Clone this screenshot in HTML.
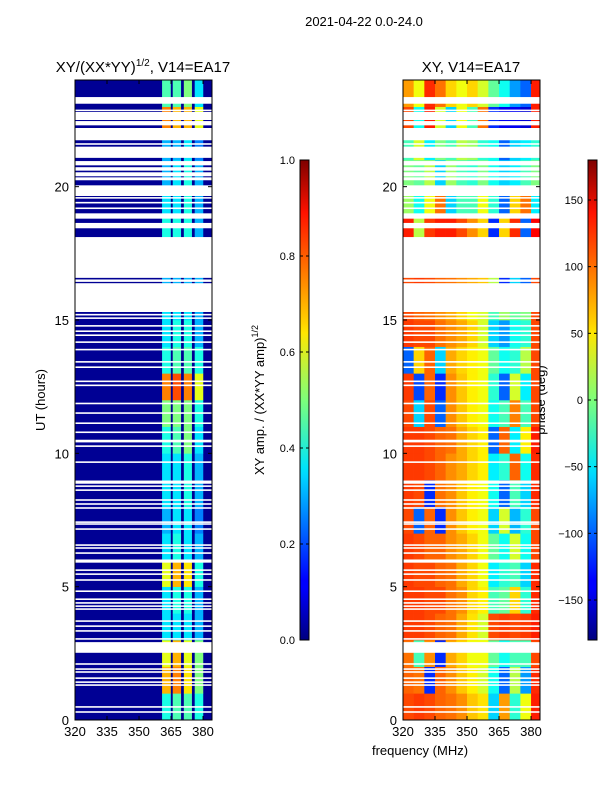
<!DOCTYPE html>
<html><head><meta charset="utf-8"><style>
body{margin:0;background:#fff;width:600px;height:800px;overflow:hidden;font-family:"Liberation Sans",sans-serif}
svg text{font-family:"Liberation Sans",sans-serif;fill:#000}
</style></head><body>
<svg id="fig" width="600" height="800" xmlns="http://www.w3.org/2000/svg">
<text x="364" y="26" font-size="13" text-anchor="middle">2021-04-22 0.0-24.0</text>
<text x="143" y="72" font-size="15" text-anchor="middle">XY/(XX*YY)<tspan dy="-6" font-size="10">1/2</tspan><tspan dy="6">, V14=EA17</tspan></text>
<text x="471" y="72" font-size="15" text-anchor="middle">XY, V14=EA17</text>
<text x="420" y="755" font-size="13" text-anchor="middle">frequency (MHz)</text>
<text transform="translate(45,400) rotate(-90)" font-size="13" text-anchor="middle">UT (hours)</text>
<text transform="translate(264,400) rotate(-90)" font-size="13" text-anchor="middle">XY amp. / (XX*YY amp)<tspan dy="-6" font-size="9">1/2</tspan></text>
<text transform="translate(545,400) rotate(-90)" font-size="13" text-anchor="middle">phase (deg)</text>
<defs><linearGradient id="jet" x1="0" y1="1" x2="0" y2="0">
<stop offset="0" stop-color="#00007f"/><stop offset="0.11" stop-color="#0000ff"/><stop offset="0.125" stop-color="#0000ff"/><stop offset="0.34" stop-color="#00d4ff"/><stop offset="0.36" stop-color="#00e4f8"/><stop offset="0.5" stop-color="#7dff7a"/><stop offset="0.64" stop-color="#ffe600"/><stop offset="0.66" stop-color="#ffd200"/><stop offset="0.89" stop-color="#ff1200"/><stop offset="1" stop-color="#7f0000"/>
</linearGradient></defs>
<g id="g"></g>
</svg>
<script>
const ampBands=[[360.8,364.9],[365.8,369.7],[371,374.8],[376.1,380.1]];
const ampBackground=0.02;
const ampHourly=[
[0.4,0.45,0.45,0.4],[0.7,0.75,0.65,0.5],[0.6,0.7,0.6,0.5],[0.35,0.35,0.35,0.3],[0.35,0.4,0.4,0.3],
[0.6,0.7,0.65,0.4],[0.35,0.4,0.35,0.3],[0.3,0.35,0.35,0.25],[0.35,0.35,0.4,0.3],[0.35,0.35,0.4,0.3],
[0.4,0.45,0.5,0.35],[0.5,0.5,0.5,0.4],[0.75,0.8,0.75,0.6],[0.4,0.45,0.45,0.4],[0.35,0.4,0.4,0.3],
[0.35,0.35,0.35,0.3],[0.3,0.3,0.3,0.3],[0.3,0.3,0.3,0.3],[0.4,0.4,0.4,0.3],[0.35,0.35,0.4,0.3],
[0.3,0.35,0.4,0.3],[0.3,0.3,0.35,0.25],[0.75,0.7,0.7,0.6],[0.45,0.45,0.5,0.35]];
const phaseFreqs=[320,325,330,335,340,345,350,355,360,365,370,375,380];
const phaseHourly=[
[110,115,110,100,95,85,65,55,-60,80,-30,40,125],
[100,95,-120,100,85,65,50,30,-40,-100,20,-80,120],
[95,-20,85,-120,75,60,40,40,-10,-40,-20,-20,110],
[115,115,110,100,95,75,55,30,110,115,110,115,125],
[115,115,110,110,95,85,60,50,-20,-10,60,-30,120],
[115,110,110,100,95,75,60,40,-50,-30,-20,-60,120],
[115,110,100,100,85,75,60,40,-10,-40,30,-40,110],
[110,-100,100,-120,85,65,50,40,-60,30,-70,-30,110],
[115,110,-120,95,85,65,50,40,-40,-100,-20,-60,120],
[115,115,110,100,85,75,60,50,-50,-30,100,-40,120],
[115,115,110,100,95,75,60,50,-100,100,-50,50,125],
[110,-60,110,-100,85,65,50,40,-40,-20,90,-20,110],
[115,-110,100,-120,85,65,50,40,-30,-100,30,-50,110],
[-100,60,100,-60,75,60,50,40,-10,-40,-30,20,110],
[115,110,110,95,85,75,60,30,-60,-80,-40,-30,110],
[110,100,95,85,75,60,40,30,-20,10,-10,0,110],
[110,115,110,100,95,85,75,65,20,-120,-60,-100,110],
[110,115,110,100,95,85,75,65,20,-120,-60,-100,110],
[125,20,115,125,125,110,85,60,-120,60,120,-100,135],
[10,-40,40,95,-60,-20,-20,40,-30,-100,60,95,-50],
[0,-10,20,-60,10,-20,-30,0,-40,-60,-50,-20,0],
[-20,30,-50,0,-20,20,10,-30,-40,-100,-60,-50,-30],
[110,-40,125,30,-60,40,-20,95,-120,-140,-140,-150,125],
[80,40,120,95,60,40,60,30,-10,-40,-80,-100,125]];
const flags=[[0.27,0.33],[0.46,0.52],[1.28,1.34],[1.39,1.45],[1.54,1.6],[1.77,1.83],[1.88,1.94],[2.07,2.13],[2.52,2.92],[3.01,3.07],[3.31,3.37],[3.49,3.55],[3.68,3.74],[4.13,4.19],[4.24,4.3],[4.36,4.42],[4.5,4.56],[4.8,4.86],[5.22,5.28],[5.44,5.5],[5.59,5.65],[5.9,6.02],[6.23,6.29],[6.42,6.48],[6.53,6.59],[7.13,7.19],[7.32,7.38],[7.39,7.45],[7.92,7.98],[8.07,8.13],[8.22,8.28],[8.59,8.65],[8.74,8.8],[8.86,8.98],[9.64,9.7],[10.24,10.3],[10.41,10.51],[10.76,10.82],[11.1,11.16],[11.48,11.54],[11.84,11.9],[12.52,12.58],[12.67,12.73],[13.2,13.26],[13.4,13.46],[13.86,13.92],[14.14,14.2],[14.4,14.46],[14.55,14.61],[14.75,14.81],[15.04,15.1],[15.17,15.23],[15.3,16.38],[16.43,16.52],[16.58,18.11],[18.44,18.64],[18.8,19.0],[19.16,19.22],[19.37,19.43],[19.55,19.61],[19.65,20.05],[20.24,20.35],[20.39,20.54],[20.6,20.73],[20.8,20.96],[21.08,21.5],[21.57,21.63],[21.74,22.2],[22.3,22.46],[22.5,22.8],[22.83,22.89],[23.11,23.36]];
const xTicks=[320,335,350,365,380];
const yTicks=[0,5,10,15,20];
const ampTicks=[0,0.2,0.4,0.6,0.8,1.0];
const phaseTicks=[-150,-100,-50,0,50,100,150];

const NS="http://www.w3.org/2000/svg";
const G=document.getElementById('g');
const FMIN=320,FMAX=384.2,TOP=80,BOT=720,W=137;
function yS(h){return BOT-(h/24)*(BOT-TOP);}
function xS(x0,f){return x0+(f-FMIN)/(FMAX-FMIN)*W;}
function jet(v){v=Math.max(0,Math.min(1,v));
 const c=x=>Math.round(255*Math.max(0,Math.min(1,x)));
 const r=c(Math.min(4*v-1.5,-4*v+4.5)),g=c(Math.min(4*v-0.5,-4*v+3.5)),b=c(Math.min(4*v+0.5,-4*v+2.5));
 return `rgb(${r},${g},${b})`;}
function el(tag,a,p){const e=document.createElementNS(NS,tag);for(const k in a)e.setAttribute(k,a[k]);(p||G).appendChild(e);return e;}

const pa=el('g',{});


el('rect',{x:75,y:TOP,width:W,height:BOT-TOP,fill:jet(ampBackground)},pa);
ampHourly.forEach((row,h)=>{row.forEach((v,i)=>{
 const b=ampBands[i];
 const r=el('rect',{x:xS(75,b[0]),y:yS(h+1),width:xS(75,b[1])-xS(75,b[0]),height:yS(h)-yS(h+1)+0.3,fill:jet(v)},pa);
 
 
});});
const pp=el('g',{});


phaseHourly.forEach((row,h)=>{row.forEach((v,i)=>{
 const f0=phaseFreqs[i],f1=i+1<phaseFreqs.length?phaseFreqs[i+1]:FMAX;
 const r=el('rect',{x:xS(403,f0),y:yS(h+1),width:xS(403,f1)-xS(403,f0)+0.3,height:yS(h)-yS(h+1)+0.3,fill:jet((v+180)/360)},pp);
 
 
});});
[75,403].forEach(x0=>{flags.forEach(f=>{
 const r=el('rect',{x:x0,y:yS(f[1]),width:W,height:yS(f[0])-yS(f[1]),fill:'#fff'});
 
 
});});
[75,403].forEach((x0,pi)=>{
 const fr=el('rect',{x:x0,y:TOP,width:W,height:BOT-TOP,fill:'none',stroke:'#000','stroke-width':1});
 
 
 xTicks.forEach(t=>{const x=xS(x0,t);
  el('line',{x1:x,x2:x,y1:BOT,y2:BOT-4,stroke:'#000'});el('line',{x1:x,x2:x,y1:TOP,y2:TOP+4,stroke:'#000'});
  const tx=el('text',{x:x,y:BOT+16,'font-size':13,'text-anchor':'middle'});tx.textContent=t;
  
  });
 yTicks.forEach(t=>{const y=yS(t);
  el('line',{x1:x0,x2:x0+4,y1:y,y2:y,stroke:'#000'});el('line',{x1:x0+W,x2:x0+W-4,y1:y,y2:y,stroke:'#000'});
  const tx=el('text',{x:x0-6,y:y+5,'font-size':13,'text-anchor':'end'});tx.textContent=t;
  
  });
});
function cbar(x,ticks,vmin,vmax,name,fmt){
 const r=el('rect',{x:x,y:160,width:9,height:480,fill:'url(#jet)',stroke:'#000','stroke-width':1});
 
 
 ticks.forEach(t=>{const y=640-(t-vmin)/(vmax-vmin)*480;
  el('line',{x1:x,x2:x+3,y1:y,y2:y,stroke:'#000'});el('line',{x1:x+9,x2:x+6,y1:y,y2:y,stroke:'#000'});
  const tx=el('text',{x:x-5,y:y+4,'font-size':11,'text-anchor':'end'});tx.textContent=fmt(t);
  
  });
}
cbar(300,ampTicks,0,1,'amp-colorbar',t=>t.toFixed(1));
cbar(588,phaseTicks,-180,180,'phase-colorbar',t=>t<0?'\u2212'+(-t):String(t));
</script>
</body></html>
